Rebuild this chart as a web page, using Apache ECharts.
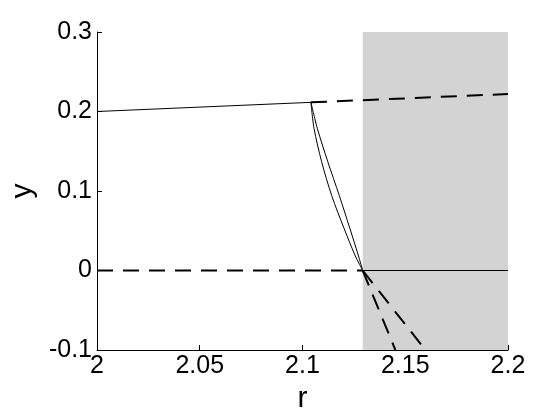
<!DOCTYPE html>
<html>
<head>
<meta charset="utf-8">
<script src="https://cdn.jsdelivr.net/npm/echarts@6/dist/echarts.min.js"></script>
<style>html,body{margin:0;padding:0;background:#fff}#c{width:560px;height:420px}</style>
</head>
<body>
<div id="c"></div>
<script>
// Data
var xTicks = [2, 2.05, 2.1, 2.15, 2.2];
var yTicks = [-0.1, 0, 0.1, 0.2, 0.3];
var shadeRange = [2.1293, 2.2];

var upperSolidR = [2, 2.1041];
var upperSolidY = [0.2, 0.2115];
var upperDashR = [2.1041, 2.2];
var upperDashY = [0.2115, 0.222];

var zeroDashR = [2, 2.1293];
var zeroDashY = [0, 0];
var zeroSolidR = [2.1293, 2.2];
var zeroSolidY = [0, 0];

var curveLeftR = [2.1041, 2.1056, 2.1093, 2.1142, 2.1203, 2.1255, 2.1293];
var curveLeftY = [0.2115, 0.1789, 0.1369, 0.0943, 0.0525, 0.0195, 0];
var curveRightR = [2.1041, 2.1072, 2.1123, 2.1179, 2.1231, 2.1271, 2.1293];
var curveRightY = [0.2115, 0.1789, 0.1369, 0.0943, 0.0525, 0.0195, 0];

var lowDashAR = [2.1293, 2.1452];
var lowDashAY = [0, -0.1];
var lowDashBR = [2.1293, 2.158];
var lowDashBY = [0, -0.094];

function pairs(xs, ys) { return xs.map(function (x, i) { return [x, ys[i]]; }); }

var FONT = 'Liberation Sans, Arial, sans-serif';
var solid = { color: '#000', width: 1, type: 'solid' };
var dashed = { color: '#000', width: 2, type: [16, 10] };

function line(name, xs, ys, style, smooth) {
  return {
    name: name, type: 'line', data: pairs(xs, ys), showSymbol: false, symbol: 'none',
    lineStyle: style, smooth: smooth || false, silent: true, z: 3, clip: true
  };
}

var chart = echarts.init(document.getElementById('c'), null, { renderer: 'canvas' });
chart.setOption({
  animation: false,
  backgroundColor: '#fff',
  grid: { left: 97, right: 52, top: 32, bottom: 70, containLabel: false },
  xAxis: {
    type: 'value', min: xTicks[0], max: xTicks[xTicks.length - 1], interval: 0.05,
    name: 'r', nameLocation: 'middle', nameGap: 31,
    nameTextStyle: { fontFamily: FONT, fontSize: 30, color: '#000' },
    axisLine: { show: true, onZero: false, lineStyle: { color: '#000', width: 1 } },
    axisTick: { show: true, inside: true, length: 5, lineStyle: { color: '#000' } },
    axisLabel: { fontFamily: FONT, fontSize: 25, color: '#000', margin: 4,
      formatter: function (v) { return String(+v.toFixed(2)); } },
    splitLine: { show: false }
  },
  yAxis: {
    type: 'value', min: yTicks[0], max: yTicks[yTicks.length - 1], interval: 0.1,
    name: 'y', nameLocation: 'middle', nameGap: 56, nameRotate: 90,
    nameTextStyle: { fontFamily: FONT, fontSize: 30, color: '#000' },
    axisLine: { show: true, onZero: false, lineStyle: { color: '#000', width: 1 } },
    axisTick: { show: true, inside: true, length: 5, lineStyle: { color: '#000' } },
    axisLabel: { fontFamily: FONT, fontSize: 25, color: '#000', margin: 5,
      formatter: function (v) { return String(+v.toFixed(2)); } },
    splitLine: { show: false }
  },
  series: [
    {
      type: 'line', data: [], silent: true,
      markArea: {
        silent: true,
        itemStyle: { color: '#d3d3d3' },
        data: [[{ xAxis: shadeRange[0], yAxis: yTicks[0] }, { xAxis: shadeRange[1], yAxis: yTicks[yTicks.length - 1] }]]
      },
      z: 1
    },
    line('upperSolid', upperSolidR, upperSolidY, solid),
    line('upperDash', upperDashR, upperDashY, dashed),
    line('zeroDash', zeroDashR, zeroDashY, dashed),
    line('zeroSolid', zeroSolidR, zeroSolidY, solid),
    line('curveLeft', curveLeftR, curveLeftY, solid, 0.3),
    line('curveRight', curveRightR, curveRightY, solid, 0.3),
    line('lowDashA', lowDashAR, lowDashAY, dashed),
    line('lowDashB', lowDashBR, lowDashBY, dashed)
  ]
});
</script>
</body>
</html>
